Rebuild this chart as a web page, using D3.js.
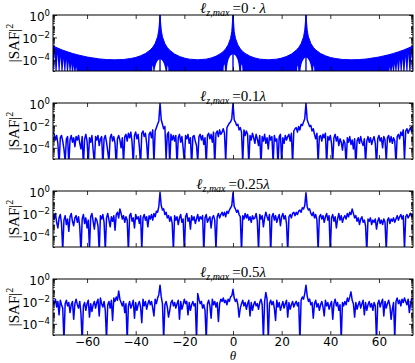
<!DOCTYPE html>
<html>
<head>
  <meta charset="utf-8">
  <style type="text/css">
    body { margin: 0; background: #fff; }
    svg { display: block; }
    .tick line { stroke: #000; stroke-width: 0.8; }
  </style>
  <script src="https://d3js.org/d3.v7.min.js"></script>
</head>
<body>
  <div id="chart"></div>
  <script type="text/javascript">
    "use strict";

    // sampling grid of the three noisy panels, degrees
    var thetaStart = -74, thetaEnd = 74, thetaStep = 0.5;

    // panel 1: envelope of the ideal array factor, log10 |SAF|^2
    var envTheta = [-74,-72,-70,-68,-66,-64,-62,-60,-58,-55,-52,-48.6,-45,-42,-40,-38,-36,-34,-33,-32,
      -31,-30.5,-30.25,-30,-29.75,-29.5,-29,-28,-27,-26,-24,-22,-20,-18,-14.5,-11,-9,-7,-5,-4,
      -3,-2,-1,-0.5,-0.25,0,0.25,0.5,1,2,3,4,5,7,9,11,14.5,18,20,22,24,26,27,28,29,29.5,29.75,30,
      30.25,30.5,31,32,33,34,36,38,40,42,45,48.6,52,55,58,60,62,64,66,68,70,72,74];
    var envLog = [-2.76,-2.96,-3.14,-3.29,-3.43,-3.55,-3.65,-3.75,-3.82,-3.92,-3.98,-4.0,-3.97,-3.88,-3.79,-3.64,-3.44,-3.12,-2.88,-2.54,
      -1.95,-1.35,-0.7,0,-0.7,-1.35,-1.96,-2.56,-2.91,-3.15,-3.49,-3.70,-3.85,-3.94,-4.0,-3.94,-3.84,-3.68,-3.43,-3.26,
      -3.02,-2.67,-2.08,-1.48,-0.7,0,-0.7,-1.48,-2.08,-2.67,-3.02,-3.26,-3.43,-3.68,-3.84,-3.94,-4.0,-3.94,-3.85,-3.70,-3.49,-3.15,-2.91,-2.56,-1.96,-1.35,-0.7,0,
      -0.7,-1.35,-1.95,-2.54,-2.88,-3.12,-3.44,-3.64,-3.79,-3.88,-3.97,-4.0,-3.98,-3.92,-3.82,-3.75,-3.65,-3.55,-3.43,-3.29,-3.14,-2.96,-2.76];
    var lobeTheta = [-30, 0, 30];
    // white gaps at the foot of the lobes
    var notchCentre = [-33, -30, -26.8, -3.6, 0, 3.6, 26.6, 30, 33.2];
    var notchHalf = [0.35, 2.5, 0.35, 0.4, 2.7, 0.4, 0.35, 2.45, 0.35];
    var notchTop = [-4.5, -3.95, -4.5, -4.4, -3.5, -4.4, -4.5, -3.8, -4.5];
    // white gaps between the sparse sidelobes near both edges
    var combTheta = [-73.4,-72.1,-70.9,-69.7,-68.6,-67.5,-66.5,-65.5,-64.5,64.5,65.5,66.5,67.5,68.6,69.7,70.9,72.1,73.4];
    var combTop = [-3.3,-3.5,-3.7,-3.9,-4.0,-4.2,-4.35,-4.5,-4.65,-4.65,-4.5,-4.35,-4.2,-4.0,-3.9,-3.7,-3.5,-3.3];

    // panel 2: l_z,max = 0.1 lambda, log10 |SAF|^2 every 0.5 deg from -74
    var saf01 = [
      -2.6,-2.8,-3.3,-2.9,-3.6,-5.5,-3.1,-2.9,-3.4,-4.1,-5.2,-3.2,-3.0,-5.5,-3.3,-2.9,-3.5,-3.1,-3.9,-3.0,
      -3.3,-2.9,-3.6,-4.1,-3.0,-5.6,-3.2,-2.8,-3.4,-5.3,-3.1,-3.5,-2.9,-4.2,-5.4,-3.0,-3.3,-2.9,-3.8,-3.2,
      -3.0,-5.5,-3.2,-2.9,-3.5,-4.3,-5.2,-3.1,-2.8,-3.4,-3.0,-3.6,-5.6,-3.2,-2.9,-3.3,-4.0,-3.1,-5.3,-3.0,
      -2.8,-3.4,-2.7,-3.1,-2.6,-3.5,-5.4,-2.9,-2.6,-3.2,-2.8,-3.9,-5.5,-2.7,-2.5,-3.0,-2.7,-3.6,-5.2,-2.8,
      -2.6,-3.1,-2.4,-5.3,-2.5,-2.2,-1.9,-1.6,-0.02,-1.5,-1.9,-2.3,-2.1,-5.0,-2.8,-2.6,-5.4,-2.8,-3.3,-2.9,
      -3.4,-2.9,-5.5,-3.1,-2.8,-3.5,-3.0,-4.0,-5.3,-2.9,-3.2,-2.8,-3.6,-3.1,-5.6,-3.0,-2.9,-3.4,-3.8,-5.2,
      -3.0,-2.8,-3.3,-2.9,-3.7,-3.1,-5.4,-2.9,-2.7,-3.2,-2.8,-3.5,-2.6,-5.5,-2.7,-2.5,-3.0,-2.4,-2.8,-2.6,
      -2.3,-2.7,-5.2,-2.2,-2.0,-1.8,-1.7,-1.4,-0.02,-1.5,-1.7,-2.0,-1.9,-2.4,-2.2,-2.6,-5.3,-2.4,-2.9,-2.5,
      -2.8,-5.4,-2.9,-3.3,-2.7,-3.1,-3.6,-2.8,-3.2,-3.8,-2.9,-5.5,-3.0,-3.4,-2.8,-3.6,-3.1,-4.1,-2.9,-3.3,
      -3.0,-5.3,-2.9,-3.4,-3.2,-5.5,-3.0,-2.8,-5.2,-3.1,-3.6,-2.9,-3.3,-3.0,-2.8,-3.4,-2.7,-5.4,-2.5,-2.3,
      -2.2,-2.6,-2.1,-2.4,-1.9,-2.0,-1.7,-1.4,-0.02,-1.5,-1.8,-2.1,-2.0,-2.5,-2.3,-2.8,-3.2,-2.7,-5.3,-3.0,
      -2.9,-3.4,-2.8,-3.1,-2.7,-5.5,-3.0,-3.3,-2.9,-3.6,-5.2,-3.1,-2.8,-3.4,-3.0,-3.8,-3.2,-3.5,-4.2,-3.3,
      -3.6,-5.4,-3.1,-3.5,-3.0,-3.7,-3.3,-4.1,-3.2,-5.6,-3.4,-3.1,-3.6,-3.0,-3.5,-3.8,-3.2,-5.3,-3.4,-3.0,
      -3.5,-3.1,-3.7,-3.3,-3.0,-3.6,-5.5,-3.2,-2.9,-3.4,-3.1,-4.0,-3.0,-3.3,-5.2,-3.1,-2.9,-3.5,-3.0,-3.6,
      -3.1,-3.4,-5.4,-3.0,-2.8,-3.2,-2.6,-2.9,-2.4,-5.1,-2.5,-2.3,-2.7,-2.4,-2.2,-2.6,-2.4];

    // panel 3: l_z,max = 0.25 lambda
    var saf025 = [
      -2.2,-2.5,-2.0,-2.8,-3.3,-2.4,-2.1,-2.9,-5.3,-2.6,-2.2,-3.0,-2.5,-3.6,-2.3,-2.0,-2.7,-3.1,-2.4,-2.2,
      -2.8,-2.3,-3.2,-5.5,-2.5,-2.1,-2.9,-2.4,-3.3,-2.6,-5.2,-2.3,-2.0,-2.7,-3.4,-2.4,-2.6,-3.1,-5.4,-2.2,
      -2.5,-2.1,-2.8,-5.3,-2.4,-2.0,-2.6,-3.2,-2.3,-2.7,-2.2,-3.5,-2.1,-1.9,-2.4,-1.6,-2.0,-2.5,-2.2,-2.8,
      -2.3,-2.6,-5.4,-2.2,-2.0,-2.7,-2.4,-3.3,-2.1,-2.5,-2.3,-2.9,-2.2,-5.2,-2.4,-2.1,-2.6,-2.3,-3.2,-2.2,
      -2.5,-2.1,-2.6,-2.0,-2.3,-1.8,-1.9,-1.4,-0.12,-1.3,-1.7,-1.6,-2.1,-1.9,-2.4,-2.2,-2.7,-2.3,-2.9,-5.3,
      -2.2,-2.6,-2.3,-3.0,-2.4,-2.1,-2.8,-2.5,-5.4,-2.3,-2.0,-2.7,-2.4,-3.4,-2.2,-2.6,-2.3,-2.9,-2.5,-2.1,
      -2.7,-2.3,-2.5,-2.2,-5.5,-2.4,-2.1,-2.8,-2.5,-2.3,-3.3,-2.4,-2.2,-2.6,-5.2,-2.3,-2.0,-2.4,-2.1,-1.9,
      -2.2,-1.9,-2.3,-1.8,-2.0,-1.7,-1.5,-1.3,-0.15,-1.4,-1.6,-1.9,-1.7,-2.1,-2.3,-5.4,-2.2,-2.5,-2.0,-2.4,
      -2.1,-2.6,-2.3,-2.8,-2.2,-2.5,-2.4,-2.0,-2.7,-5.3,-2.1,-2.5,-2.2,-3.2,-2.4,-1.9,-2.3,-2.6,-2.1,-5.5,
      -2.3,-2.0,-2.6,-2.2,-2.8,-2.4,-2.1,-3.1,-2.3,-2.0,-2.5,-2.2,-2.9,-5.4,-2.3,-2.1,-2.4,-2.0,-1.9,-2.2,
      -1.9,-2.1,-1.8,-1.7,-1.9,-1.5,-1.6,-1.3,-0.15,-1.4,-1.7,-1.6,-2.0,-2.2,-1.9,-2.4,-2.1,-2.6,-5.3,-2.3,
      -2.1,-2.5,-2.2,-2.8,-2.3,-2.0,-2.6,-2.2,-5.5,-2.4,-2.1,-2.7,-2.3,-3.3,-2.5,-2.0,-2.6,-2.2,-2.8,-2.4,
      -2.2,-2.5,-2.0,-2.3,-1.9,-2.1,-1.6,-2.0,-2.4,-2.2,-2.7,-2.4,-3.0,-2.5,-2.3,-2.8,-2.6,-3.1,-5.4,-2.5,
      -2.7,-2.4,-3.0,-2.6,-2.8,-2.5,-3.4,-2.7,-2.4,-2.9,-2.6,-3.0,-2.5,-2.8,-5.3,-2.6,-2.4,-2.9,-2.5,-2.7,
      -2.4,-2.8,-2.5,-2.2,-2.6,-2.3,-2.1,-2.5,-2.2,-5.2,-2.3,-2.1,-2.4,-2.2,-2.0,-2.3,-2.1];

    // panel 4: l_z,max = 0.5 lambda
    var saf05 = [
      -1.9,-2.2,-1.8,-2.5,-2.0,-3.2,-1.9,-2.3,-2.6,-5.5,-2.2,-1.9,-2.4,-2.1,-3.0,-2.3,-2.0,-3.6,-2.2,-1.8,
      -2.3,-2.6,-2.0,-3.1,-5.6,-2.4,-2.1,-2.8,-2.2,-1.9,-3.4,-2.2,-2.9,-2.3,-2.0,-2.6,-2.1,-1.8,-3.3,-1.7,
      -2.2,-2.5,-2.0,-2.8,-5.4,-2.3,-2.0,-2.6,-1.9,-3.7,-1.7,-2.0,-1.6,-1.9,-1.07,-1.8,-2.1,-2.4,-2.0,-3.0,
      -2.2,-5.5,-2.4,-2.0,-2.6,-2.3,-1.9,-3.5,-2.1,-2.8,-2.3,-2.0,-2.5,-3.9,-1.8,-2.4,-2.0,-2.7,-2.2,-1.9,
      -2.3,-2.0,-2.6,-3.3,-1.8,-2.2,-1.7,-1.4,-0.55,-1.6,-2.2,-5.4,-2.3,-2.0,-2.5,-3.4,-2.8,-2.1,-1.9,-2.4,
      -2.1,-2.6,-2.2,-1.9,-3.6,-2.0,-2.7,-2.3,-1.8,-2.2,-2.0,-3.2,-2.1,-2.8,-2.3,-2.0,-2.4,-2.2,-5.5,-1.3,
      -1.8,-2.2,-2.0,-2.6,-2.3,-2.8,-5.4,-2.2,-1.9,-2.4,-3.5,-1.8,-2.3,-2.0,-2.5,-2.1,-3.8,-2.2,-1.8,-2.0,
      -1.7,-2.1,-1.9,-2.3,-1.8,-2.0,-1.6,-1.5,-0.92,-1.7,-2.0,-1.8,-2.3,-3.4,-2.6,-2.2,-1.9,-2.4,-2.1,-2.7,
      -2.2,-1.9,-3.3,-2.1,-2.8,-2.3,-2.0,-2.4,-2.2,-2.7,-2.1,-1.8,-2.3,-5.3,-2.0,-1.2,-1.8,-5.4,-2.2,-1.9,
      -2.3,-2.0,-2.6,-3.7,-1.9,-2.5,-2.1,-2.8,-2.4,-2.0,-2.6,-2.2,-1.9,-3.4,-2.1,-2.7,-2.3,-2.0,-2.5,-2.2,
      -2.0,-2.4,-2.1,-5.5,-1.9,-1.6,-1.8,-1.3,-0.55,-1.5,-2.0,-1.8,-2.3,-2.1,-3.5,-2.2,-1.9,-2.5,-2.2,-2.8,
      -2.3,-2.0,-2.5,-3.3,-1.9,-2.4,-2.1,-2.7,-2.3,-2.0,-3.6,-2.2,-1.8,-2.4,-2.1,-2.8,-2.3,-5.4,-2.1,-2.4,
      -2.0,-2.3,-1.7,-2.0,-1.6,-1.15,-1.9,-2.2,-3.4,-2.1,-2.7,-2.3,-2.0,-2.6,-2.2,-1.9,-3.2,-2.1,-2.8,-2.3,
      -2.0,-2.5,-2.2,-2.8,-2.1,-2.4,-5.5,-2.2,-1.9,-2.5,-2.1,-1.8,-3.3,-2.0,-2.6,-2.2,-1.9,-2.4,-3.6,-2.7,
      -2.1,-5.3,-2.0,-1.7,-2.2,-1.9,-2.4,-1.8,-2.1,-1.7,-2.0,-2.3,-1.8,-3.0,-2.2,-1.7,-1.9];

    var panelTitles = ["0\u2009\u00b7\u2009\u03bb", "0.1\u03bb", "0.25\u03bb", "0.5\u03bb"];
    var xTicks = [-60, -40, -20, 0, 20, 40, 60];
    var yMajor = [1, 1e-2, 1e-4];
    var yLabelExps = [0, -2, -4];

    var width = 415, height = 363;
    var left = 53, right = 413, top0 = 15, panelGap = 88, panelH = 56;
    var blue = "#0000ff";
    var sans = "DejaVu Sans, sans-serif", serif = "Liberation Serif, DejaVu Serif, serif";

    var svg = d3.select("#chart").append("svg")
        .attr("width", width).attr("height", height);
    svg.append("rect").attr("width", width).attr("height", height).attr("fill", "#fff");

    var x = d3.scaleLinear().domain([thetaStart, thetaEnd]).range([left, right]);
    var thetas = d3.range(thetaStart, thetaEnd + thetaStep / 2, thetaStep);

    function lg(v) { return Math.pow(10, v); }

    function drawIdeal(plot, y, bottom, top) {
      var env = envTheta.map(function(t, j) { return {t: t, v: envLog[j]}; });
      var area = d3.area()
          .x(function(d) { return x(d.t); })
          .y0(bottom + 3)
          .y1(function(d) { return y(lg(d.v)); });
      plot.append("path").datum(env).attr("d", area)
          .attr("fill", blue).attr("stroke", blue).attr("stroke-width", 1);

      var pl = d3.line().x(function(p) { return x(p[0]); }).y(function(p) { return y(lg(p[1])); });
      notchCentre.forEach(function(c, j) {
        var w = notchHalf[j], tp = notchTop[j];
        var pts = [[c - w, -5.3], [c - 0.75 * w, tp - 0.6], [c - 0.35 * w, tp - 0.12], [c, tp],
                   [c + 0.35 * w, tp - 0.12], [c + 0.75 * w, tp - 0.6], [c + w, -5.3]];
        plot.append("path").attr("d", pl.curve(d3.curveCatmullRom)(pts)).attr("fill", "#fff");
      });
      combTheta.forEach(function(c, j) {
        var nb = j > 0 && Math.abs(combTheta[j - 1] - c) < 3 ? combTheta[j - 1] : combTheta[j + 1];
        var hw = 0.38 * Math.abs(nb - c);
        var pts = [[c - hw, -5.3], [c, combTop[j]], [c + hw, -5.3]];
        plot.append("path").attr("d", pl.curve(d3.curveLinear)(pts) + "Z").attr("fill", "#fff");
      });
      plot.selectAll(".lobe").data(lobeTheta).join("line")
          .attr("x1", function(d) { return x(d); }).attr("x2", function(d) { return x(d); })
          .attr("y1", bottom + 2).attr("y2", top)
          .attr("stroke", blue).attr("stroke-width", 1.4);
    }

    function drawNoisy(series) {
      return function(plot, y) {
        var line = d3.line()
            .x(function(d, j) { return x(thetas[j]); })
            .y(function(d) { return y(lg(d)); });
        plot.append("path").datum(series).attr("d", line)
            .attr("fill", "none").attr("stroke", blue)
            .attr("stroke-width", 1.5).attr("stroke-linejoin", "round");
      };
    }

    var painters = [drawIdeal, drawNoisy(saf01), drawNoisy(saf025), drawNoisy(saf05)];

    painters.forEach(function(paint, i) {
      var top = top0 + i * panelGap, bottom = top + panelH;
      var y = d3.scaleLog().domain([1e-5, 1]).range([bottom, top]);
      var g = svg.append("g");

      g.append("clipPath").attr("id", "clip" + i).append("rect")
          .attr("x", left).attr("y", top).attr("width", right - left).attr("height", panelH);
      var plot = g.append("g").attr("clip-path", "url(#clip" + i + ")");
      paint(plot, y, bottom, top);

      // ticks, all pointing inwards
      var minor = y.ticks().filter(function(v) { return yMajor.indexOf(v) < 0; });
      var axes = [
        d3.axisBottom(x).tickValues(xTicks).tickSize(-4).tickPadding(2)
          .tickFormat(i === 3 ? d3.format("d") : ""),
        d3.axisTop(x).tickValues(xTicks).tickSize(-4).tickFormat(""),
        d3.axisLeft(y).tickValues(yMajor).tickSize(-4).tickFormat(""),
        d3.axisLeft(y).tickValues(minor).tickSize(-2).tickFormat(""),
        d3.axisRight(y).tickValues(yMajor).tickSize(-4).tickFormat(""),
        d3.axisRight(y).tickValues(minor).tickSize(-2).tickFormat("")
      ];
      var shifts = ["translate(0," + bottom + ")", "translate(0," + top + ")",
                    "translate(" + left + ",0)", "translate(" + left + ",0)",
                    "translate(" + right + ",0)", "translate(" + right + ",0)"];
      axes.forEach(function(ax, k) {
        var a = g.append("g").attr("transform", shifts[k]).call(ax);
        a.select(".domain").remove();
        a.selectAll("text").attr("font-family", sans).attr("font-size", 12).attr("fill", "#000");
      });

      g.append("rect").attr("x", left).attr("y", top)
          .attr("width", right - left).attr("height", panelH)
          .attr("fill", "none").attr("stroke", "#000").attr("stroke-width", 1);

      // 10^k labels
      g.selectAll(".ylab").data(yLabelExps).join("text")
          .attr("x", left - 3)
          .attr("y", function(d) { return y(lg(d)) + 5.5; })
          .attr("text-anchor", "end").attr("font-family", sans).attr("font-size", 12)
          .each(function(d) {
            var t = d3.select(this);
            t.append("tspan").text("10");
            t.append("tspan").attr("dy", -5).attr("font-size", 8.5)
                .text(d === 0 ? "0" : "\u2212" + (-d));
          });

      // y label |SAF|^2
      var yl = g.append("text")
          .attr("transform", "translate(19," + (top + panelH / 2) + ") rotate(-90)")
          .attr("text-anchor", "middle").attr("font-family", serif).attr("font-size", 15);
      yl.append("tspan").text("|SAF|");
      yl.append("tspan").attr("dy", -6).attr("font-size", 10).text("2");

      // title
      var tt = g.append("text")
          .attr("x", (left + right) / 2).attr("y", top - 2.5)
          .attr("text-anchor", "middle").attr("font-family", serif).attr("font-size", 15);
      var label = panelTitles[i];
      tt.append("tspan").attr("font-style", "italic").text("\u2113");
      tt.append("tspan").attr("font-style", "italic").attr("font-size", 10).attr("dy", 3.5).text("z,max");
      tt.append("tspan").attr("dy", -3.5).text("\u2009=" + label.slice(0, -1));
      tt.append("tspan").attr("font-style", "italic").text(label.slice(-1));
    });

    svg.append("text")
        .attr("x", (left + right) / 2).attr("y", 359.5)
        .attr("text-anchor", "middle").attr("font-family", serif)
        .attr("font-style", "italic").attr("font-size", 13)
        .text("\u03b8");
  </script>
</body>
</html>
